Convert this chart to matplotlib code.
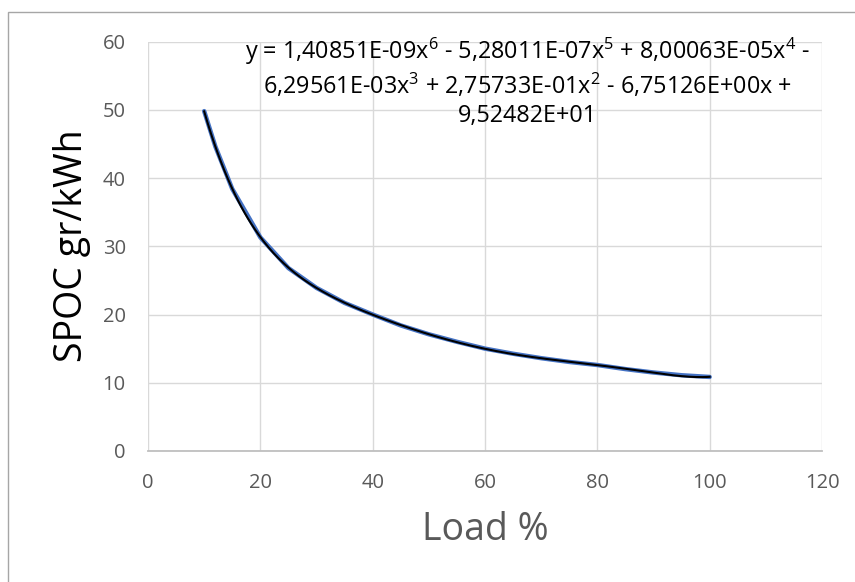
import numpy as np
import matplotlib.pyplot as plt
from matplotlib.patches import Rectangle

plt.rcParams['font.family'] = ['Open Sans', 'DejaVu Sans']
plt.rcParams['mathtext.fontset'] = 'custom'
plt.rcParams['mathtext.rm'] = 'Open Sans'
plt.rcParams['mathtext.it'] = 'Open Sans'

# values
load = [10, 12, 15, 20, 25, 30, 35, 40, 45, 50, 55, 60, 65, 70, 75, 80, 85, 90, 95, 100]
spoc = [49.8, 44.6, 38.4, 31.3, 26.8, 23.9, 21.7, 20.0, 18.4, 17.1, 16.0, 15.0,
        14.25, 13.6, 13.05, 12.6, 12.0, 11.5, 11.1, 10.85]

# trendline coefficients as printed on the chart (x^6 ... x^0)
coefs = [1.40851e-09, -5.28011e-07, 8.00063e-05, -6.29561e-03, 2.75733e-01, -6.75126e+00, 9.52482e+01]

eq_text = ("y = 1,40851E-09x$^{6}$ - 5,28011E-07x$^{5}$ + 8,00063E-05x$^{4}$ -\n"
           "6,29561E-03x$^{3}$ + 2,75733E-01x$^{2}$ - 6,75126E+00x +\n"
           "9,52482E+01")

W, H = 855, 582
fig = plt.figure(figsize=(W / 100, H / 100), dpi=100)
ax = fig.add_axes([148 / W, 1 - 451 / H, (822 - 148) / W, (451 - 41.5) / H])

# outer chart border
fig.patches.append(Rectangle((8 / W, -0.1), 1.2, 1 - 12 / H + 0.1, transform=fig.transFigure,
                             fill=False, edgecolor='#a6a6a6', linewidth=1.0))

ax.plot(load, spoc, color='#4472C4', linewidth=3.2, zorder=3, solid_capstyle='round')
xs = np.linspace(min(load), max(load), 300)
ax.plot(xs, np.polyval(coefs, xs), color='black', linewidth=1.5, zorder=4)

ax.set_xlim(0, 120)
ax.set_ylim(0, 60)
ax.set_xticks(range(0, 121, 20))
ax.set_yticks(range(0, 61, 10))
ax.grid(True, color='#d9d9d9', linewidth=1.0)
ax.set_axisbelow(True)
for s in ['left', 'right', 'top']:
    ax.spines[s].set_visible(False)
ax.spines['bottom'].set_color('#bfbfbf')
ax.spines['bottom'].set_linewidth(1.3)
ax.tick_params(length=0, labelsize=14.5, labelcolor='#595959')
ax.tick_params(axis='x', pad=16)
ax.tick_params(axis='y', pad=16)

fig.text(485 / W, 1 - 530 / H, 'Load %', fontsize=27, color='#595959', ha='center', va='center')
fig.text(72 / W, 1 - 246 / H, 'SPOC gr/kWh', fontsize=27, color='black', rotation=90,
         ha='center', va='center')
ax.text(527 / W, 1 - 36 / H, eq_text, transform=fig.transFigure, fontsize=16.8, color='black',
        ha='center', va='top', multialignment='center', linespacing=1.22)

fig.savefig('out.png', dpi=100, facecolor='white')
